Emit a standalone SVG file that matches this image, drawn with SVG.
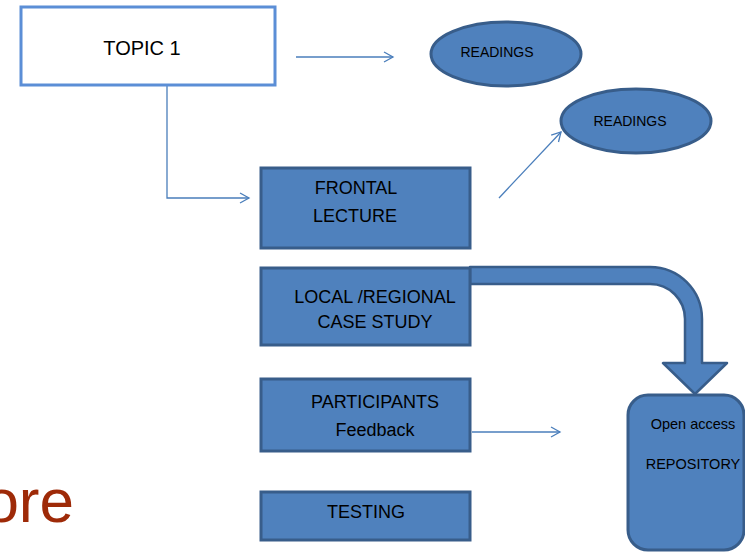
<svg xmlns="http://www.w3.org/2000/svg" width="745" height="552" viewBox="0 0 745 552">
<style>
.box{fill:#4F81BD;stroke:#385D8A;stroke-width:3}
.t{font-family:"Liberation Sans",Arial,sans-serif;fill:#000;text-anchor:middle}
.c{fill:none;stroke:#4A7EBB;stroke-width:1.3}
</style>
<defs>
<marker id="arr" markerUnits="userSpaceOnUse" markerWidth="14" markerHeight="14" refX="10" refY="6" orient="auto">
<path d="M1,1 L10,6 L1,11" fill="none" stroke="#4A7EBB" stroke-width="1.3"/>
</marker>
</defs>
<rect width="745" height="552" fill="#fff"/>
<text x="74" y="522" font-family="'Liberation Sans',Arial,sans-serif" font-size="62" fill="#9E2A08" text-anchor="end">ore</text>
<g id="connectors">
<line class="c" x1="296" y1="57" x2="393" y2="57" marker-end="url(#arr)"/>
<polyline class="c" points="167,85 167,198 249,198" marker-end="url(#arr)"/>
<line class="c" x1="499" y1="198" x2="561" y2="132" marker-end="url(#arr)"/>
<line class="c" x1="472" y1="432" x2="560" y2="432" marker-end="url(#arr)"/>
<path d="M470,267 L650,267 A52,52 0 0 1 702,319 L702,363 L727,363 L695,394 L663,363 L685,363 L685,319 A35,35 0 0 0 650,284 L470,284 Z" fill="#4F81BD" stroke="#385D8A" stroke-width="2.5" stroke-linejoin="round"/>
</g>
<g id="topic1">
<rect x="21" y="7" width="254" height="78" fill="#fff" stroke="#5B8ED6" stroke-width="3"/>
<text class="t" x="142" y="55" font-size="20">TOPIC 1</text>
</g>
<g id="readings1">
<ellipse cx="506" cy="54" rx="75" ry="32" class="box" stroke-width="2.5"/>
<text class="t" x="497" y="57" font-size="14">READINGS</text>
</g>
<g id="readings2">
<ellipse cx="636" cy="121" rx="75" ry="32" class="box" stroke-width="2.5"/>
<text class="t" x="630" y="126" font-size="14">READINGS</text>
</g>
<g id="frontal">
<rect x="261" y="168" width="209" height="80" class="box"/>
<text class="t" x="356" y="194" font-size="18">FRONTAL</text>
<text class="t" x="355" y="222" font-size="18">LECTURE</text>
</g>
<g id="local">
<rect x="261" y="268" width="209" height="77" class="box"/>
<text class="t" x="375" y="303" font-size="18">LOCAL /REGIONAL</text>
<text class="t" x="375" y="328" font-size="18">CASE STUDY</text>
</g>
<g id="participants">
<rect x="261" y="379" width="209" height="72" class="box"/>
<text class="t" x="375" y="408" font-size="18">PARTICIPANTS</text>
<text class="t" x="375" y="436" font-size="18">Feedback</text>
</g>
<g id="testing">
<rect x="261" y="492" width="209" height="48" class="box"/>
<text class="t" x="366" y="518" font-size="18">TESTING</text>
</g>
<g id="repository">
<rect x="628" y="395" width="116" height="155" rx="20" ry="20" class="box" stroke-width="2.5"/>
<text class="t" x="693" y="429" font-size="14.5">Open access</text>
<text class="t" x="693" y="469" font-size="14.5">REPOSITORY</text>
</g>
</svg>
